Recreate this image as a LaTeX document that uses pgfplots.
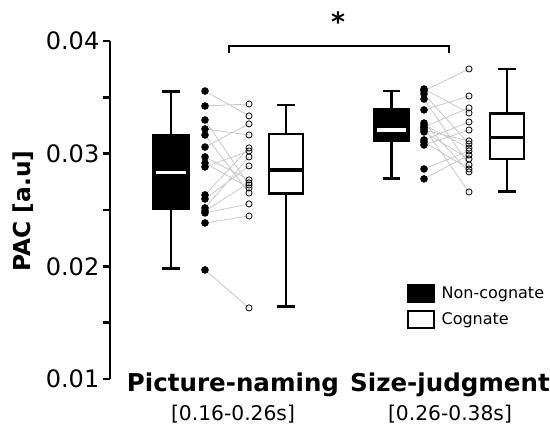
\documentclass[border=0pt]{standalone}
\usepackage{fontspec}
\setmainfont{DejaVu Sans}
\usepackage{pgfplots}
\pgfplotsset{compat=1.18}
\definecolor{linkgray}{RGB}{200,200,200}
\begin{document}
\begin{tikzpicture}
\useasboundingbox (-82.5pt,-39.75pt) rectangle (330pt,284.25pt);
\begin{axis}[
  scale only axis,
  width=322.5pt, height=253.5pt,
  xmin=110, xmax=540, ymin=0.01, ymax=0.04,
  clip=false,
  axis x line=none,
  axis y line*=left,
  axis line style={line width=2pt, -},
  scaled y ticks=false,
  ytick={0.01,0.02,0.03,0.04},
  yticklabels={0.01,0.02,0.03,0.04},
  minor ytick={0.015,0.025,0.035},
  tick align=outside,
  major tick length=5.5pt, minor tick length=5.5pt,
  every tick/.style={line width=2pt, black},
  y tick label style={font=\fontsize{18}{20}\selectfont, xshift=1pt},
  ylabel={\textbf{PAC [a.u]}},
  ylabel style={font=\fontsize{17.5}{20}\selectfont, at={(axis description cs:-0.202,0.497)}, anchor=center},
  legend style={draw=none, fill=none, at={(axis cs:407,0.01843)}, anchor=north west,
    font=\fontsize{12}{14}\selectfont, row sep=5pt, inner sep=0pt},
  legend cell align=left,
]
\addlegendimage{legend image code/.code={\draw[fill=black,draw=black,line width=1.5pt] (0pt,-6.3pt) rectangle (19.5pt,6.3pt); \path[draw=none,fill=none] (0pt,0pt) -- (23pt,0pt);}}
\addlegendentry{Non-cognate}
\addlegendimage{legend image code/.code={\draw[fill=white,draw=black,line width=1.5pt] (0pt,-6.3pt) rectangle (19.5pt,6.3pt); \path[draw=none,fill=none] (0pt,0pt) -- (23pt,0pt);}}
\addlegendentry{Cognate}

% connecting lines, picture naming
\addplot[linkgray, line width=0.6pt, unbounded coords=jump, forget plot] coordinates {
(205,0.03556) (249,0.03335) (nan,nan)
(205,0.03423) (249,0.03441) (nan,nan)
(205,0.03299) (249,0.02722) (nan,nan)
(205,0.03219) (249,0.03166) (nan,nan)
(205,0.03166) (249,0.02651) (nan,nan)
(205,0.03059) (249,0.03264) (nan,nan)
(205,0.02971) (249,0.02767) (nan,nan)
(205,0.02917) (249,0.02696) (nan,nan)
(205,0.02882) (249,0.03024) (nan,nan)
(205,0.02634) (249,0.03051) (nan,nan)
(205,0.02598) (249,0.02891) (nan,nan)
(205,0.02518) (249,0.02971) (nan,nan)
(205,0.02492) (249,0.02740) (nan,nan)
(205,0.02474) (249,0.02554) (nan,nan)
(205,0.02385) (249,0.02447) (nan,nan)
(205,0.01968) (249,0.01631)
};
% connecting lines, size judgment
\addplot[linkgray, line width=0.6pt, unbounded coords=jump, forget plot] coordinates {
(424,0.03574) (469,0.03361) (nan,nan)
(424,0.03556) (469,0.03752) (nan,nan)
(424,0.03530) (469,0.03086) (nan,nan)
(424,0.03485) (469,0.02900) (nan,nan)
(424,0.03388) (469,0.03512) (nan,nan)
(424,0.03272) (469,0.02838) (nan,nan)
(424,0.03255) (469,0.03050) (nan,nan)
(424,0.03237) (469,0.03406) (nan,nan)
(424,0.03228) (469,0.02660) (nan,nan)
(424,0.03210) (469,0.03113) (nan,nan)
(424,0.03193) (469,0.02953) (nan,nan)
(424,0.03122) (469,0.03281) (nan,nan)
(424,0.03104) (469,0.02864) (nan,nan)
(424,0.03077) (469,0.03210) (nan,nan)
(424,0.02864) (469,0.03024) (nan,nan)
(424,0.02776) (469,0.02988)
};
% dots
\addplot[only marks, mark=*, mark size=2.6pt, black, forget plot] coordinates {
(205,0.03556) (205,0.03423) (205,0.03299) (205,0.03219) (205,0.03166) (205,0.03059)
(205,0.02971) (205,0.02917) (205,0.02882) (205,0.02634) (205,0.02598) (205,0.02518)
(205,0.02492) (205,0.02474) (205,0.02385) (205,0.01968)
(424,0.03574) (424,0.03556) (424,0.03530) (424,0.03485) (424,0.03388) (424,0.03272)
(424,0.03255) (424,0.03237) (424,0.03228) (424,0.03210) (424,0.03193) (424,0.03122)
(424,0.03104) (424,0.03077) (424,0.02864) (424,0.02776)
};
\addplot[only marks, mark=o, mark size=2.3pt, black, mark options={line width=0.6pt, fill=white}, forget plot] coordinates {
(249,0.03441) (249,0.03335) (249,0.03264) (249,0.03166) (249,0.03051) (249,0.03024)
(249,0.02971) (249,0.02891) (249,0.02767) (249,0.02740) (249,0.02722) (249,0.02696)
(249,0.02651) (249,0.02554) (249,0.02447) (249,0.01631)
(469,0.03752) (469,0.03512) (469,0.03406) (469,0.03361) (469,0.03281) (469,0.03210)
(469,0.03113) (469,0.03086) (469,0.03050) (469,0.03024) (469,0.02988) (469,0.02953)
(469,0.02900) (469,0.02864) (469,0.02838) (469,0.02660)
};
% whiskers (vertical stems and caps)
\addplot[black, line width=2pt, unbounded coords=jump, forget plot] coordinates {
(171,0.0355) (171,0.0198) (nan,nan) (162,0.0355) (180,0.0355) (nan,nan) (162,0.0198) (180,0.0198) (nan,nan)
(286,0.03432) (286,0.01642) (nan,nan) (277,0.03432) (295,0.03432) (nan,nan) (277,0.01642) (295,0.01642) (nan,nan)
(391.5,0.03556) (391.5,0.02782) (nan,nan) (383,0.03556) (400,0.03556) (nan,nan) (383,0.02782) (400,0.02782) (nan,nan)
(507,0.03752) (507,0.02663) (nan,nan) (498,0.03752) (516,0.03752) (nan,nan) (498,0.02663) (516,0.02663)
};
% boxes (quartiles)
\addplot[draw=black, fill=black, line width=2pt, forget plot] coordinates {(153,0.0251) (189,0.0251) (189,0.0316) (153,0.0316)} -- cycle;
\addplot[draw=black, fill=white, line width=2pt, forget plot] coordinates {(269,0.02649) (303,0.02649) (303,0.03175) (269,0.03175)} -- cycle;
\addplot[draw=black, fill=black, line width=2pt, forget plot] coordinates {(374,0.03113) (409,0.03113) (409,0.03394) (374,0.03394)} -- cycle;
\addplot[draw=black, fill=white, line width=2pt, forget plot] coordinates {(490,0.02953) (524,0.02953) (524,0.03358) (490,0.03358)} -- cycle;
% medians
\addplot[white, line width=2.4pt, unbounded coords=jump, forget plot] coordinates {(156,0.02831) (186,0.02831) (nan,nan) (377,0.0321) (406,0.0321)};
\addplot[black, line width=2.4pt, unbounded coords=jump, forget plot] coordinates {(269,0.02855) (303,0.02855) (nan,nan) (490,0.03142) (524,0.03142)};
% significance bracket
\addplot[black, line width=1.5pt, forget plot] coordinates {(229,0.03894) (229,0.03956) (449,0.03956) (449,0.03894)};
\node[font=\fontsize{20}{22}\selectfont\bfseries] at (axis cs:338,0.0417) {*};
% category labels
\node[anchor=base, font=\fontsize{18.4}{20}\selectfont\bfseries] at (axis cs:233,0.00886) {Picture-naming};
\node[anchor=base, font=\fontsize{18.4}{20}\selectfont\bfseries] at (axis cs:450,0.00886) {Size-judgment};
\node[anchor=base, font=\fontsize{15.2}{17}\selectfont] at (axis cs:233,0.00630) {[0.16-0.26s]};
\node[anchor=base, font=\fontsize{15.2}{17}\selectfont] at (axis cs:450,0.00630) {[0.26-0.38s]};
\end{axis}
\end{tikzpicture}
\end{document}
